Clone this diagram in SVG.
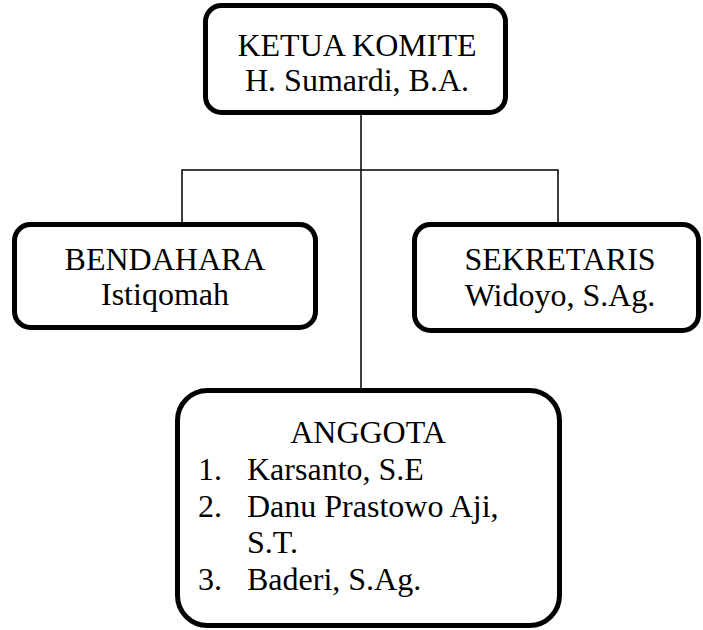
<svg xmlns="http://www.w3.org/2000/svg" width="703" height="630" viewBox="0 0 703 630">
<style>
.box{fill:#fff;stroke:#000;stroke-width:5}
.t{font-family:"Liberation Serif","Times New Roman",serif;font-size:32px;fill:#000}
.c{text-anchor:middle}
.ln{stroke:#000;stroke-width:1.5;fill:none}
</style>
<rect width="703" height="630" fill="#fff"/>
<g id="connectors">
<path class="ln" d="M361 113V390"/>
<path class="ln" d="M182 224V170H558V224"/>
</g>
<g id="ketua">
<rect class="box" x="205.5" y="5.5" width="300" height="107" rx="16"/>
<text class="t c" x="357" y="56">KETUA KOMITE</text>
<text class="t c" x="357" y="91">H. Sumardi, B.A.</text>
</g>
<g id="bendahara">
<rect class="box" x="14.5" y="224.5" width="301" height="103" rx="16"/>
<text class="t c" x="165" y="270">BENDAHARA</text>
<text class="t c" x="165" y="305">Istiqomah</text>
</g>
<g id="sekretaris">
<rect class="box" x="414.5" y="224.5" width="284" height="106" rx="16"/>
<text class="t c" x="560" y="270">SEKRETARIS</text>
<text class="t c" x="560" y="306">Widoyo, S.Ag.</text>
</g>
<g id="anggota">
<rect class="box" x="177.5" y="390.5" width="382" height="235" rx="30"/>
<text class="t c" x="368" y="443">ANGGOTA</text>
<text class="t" x="198" y="480">1.</text>
<text class="t" x="247" y="480">Karsanto, S.E</text>
<text class="t" x="198" y="517">2.</text>
<text class="t" x="247" y="517">Danu Prastowo Aji,</text>
<text class="t" x="247" y="553">S.T.</text>
<text class="t" x="198" y="590">3.</text>
<text class="t" x="247" y="590">Baderi, S.Ag.</text>
</g>
</svg>
